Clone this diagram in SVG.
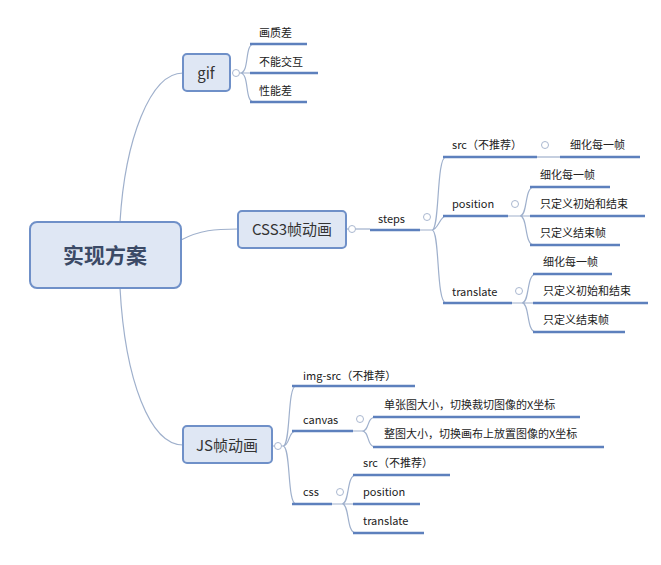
<svg xmlns="http://www.w3.org/2000/svg" width="661" height="565" viewBox="0 0 661 565">
<style>
.t{font-family:"Noto Sans CJK SC","Noto Sans",sans-serif;font-size:11px;fill:#222}
.ul{stroke:#5d80bd;stroke-width:2.5;fill:none}
.c{stroke:#9fb0cc;stroke-width:1.2;fill:none}
.box{fill:#dfe7f4;stroke:#6f90c8;stroke-width:2}
.bt{font-family:"Noto Sans CJK SC","Noto Sans",sans-serif;font-size:15px;fill:#333;text-anchor:middle}
.ci{fill:#fff;stroke:#aab8d0;stroke-width:1}
</style>
<rect width="661" height="565" fill="#fff"/>
<g id="connectors">
<path class="c" d="M120 222 C125 140 150 73 183 73"/>
<path class="c" d="M181 240 C200 230 215 229 238 229"/>
<path class="c" d="M120 288 C125 380 150 445 183 445"/>
<path class="c" d="M240 73 C250 73 244 44 254 44 M240 73 H250 M240 73 C250 73 244 102 254 102"/>
<path class="c" d="M346 229 H370"/>
<path class="c" d="M420 230 H432 C440 230 436 157 446 157 M432 230 C440 230 436 303 446 303 M432 230 C438 230 440 216 446 216"/>
<path class="c" d="M537 157 H560"/>
<path class="c" d="M508 216 H520 C528 216 524 187 534 187 M520 216 H530 M520 216 C528 216 524 245 534 245"/>
<path class="c" d="M512 303 H522 C530 303 526 274 536 274 M522 303 H533 M522 303 C530 303 526 332 536 332"/>
<path class="c" d="M272 446 H283 C291 446 287 386 296 386 M283 446 C290 446 288 431 296 431 M283 446 C291 446 287 504 296 504"/>
<path class="c" d="M353 431 H362 C370 431 366 417 376 417 M362 431 C370 431 366 447 376 447"/>
<path class="c" d="M332 504 H342 C350 504 346 475 356 475 M342 504 H353 M342 504 C350 504 346 533 356 533"/>
</g>
<g id="root"><rect class="box" x="30" y="222" width="151" height="66" rx="7" stroke-width="4"/><text x="105" y="263" class="bt" style="font-size:21px;font-weight:bold;fill:#3b4a66">实现方案</text></g>
<g id="gif"><rect class="box" x="183" y="54" width="47" height="37" rx="4"/><text x="206" y="79" class="bt">gif</text><circle class="ci" cx="236" cy="73" r="3.5"/></g>
<g id="gif-kids">
<text class="t" x="259" y="37">画质差</text><path class="ul" d="M250 44 H307"/>
<text class="t" x="259" y="66">不能交互</text><path class="ul" d="M250 73 H318"/>
<text class="t" x="259" y="95">性能差</text><path class="ul" d="M250 102 H307"/>
</g>
<g id="css3"><rect class="box" x="238" y="211" width="108" height="37" rx="4"/><text x="292" y="235" class="bt">CSS3帧动画</text><circle class="ci" cx="352" cy="229" r="3.5"/></g>
<g id="steps"><text class="t" x="378" y="223">steps</text><path class="ul" d="M370 230 H420"/><circle class="ci" cx="427" cy="217" r="3.5"/></g>
<g id="steps-kids">
<text class="t" x="452" y="149">src（不推荐）</text><path class="ul" d="M443 157 H537"/><circle class="ci" cx="545" cy="145" r="3.5"/>
<text class="t" x="570" y="149">细化每一帧</text><path class="ul" d="M560 157 H640"/>
<text class="t" x="452" y="208">position</text><path class="ul" d="M443 216 H508"/><circle class="ci" cx="515" cy="204" r="3.5"/>
<text class="t" x="540" y="179">细化每一帧</text><path class="ul" d="M530 187 H610"/>
<text class="t" x="540" y="208">只定义初始和结束</text><path class="ul" d="M530 216 H645"/>
<text class="t" x="540" y="237">只定义结束帧</text><path class="ul" d="M530 245 H620"/>
<text class="t" x="452" y="296">translate</text><path class="ul" d="M443 303 H512"/><circle class="ci" cx="519" cy="291" r="3.5"/>
<text class="t" x="543" y="266">细化每一帧</text><path class="ul" d="M533 274 H612"/>
<text class="t" x="543" y="295">只定义初始和结束</text><path class="ul" d="M533 303 H648"/>
<text class="t" x="543" y="324">只定义结束帧</text><path class="ul" d="M533 332 H625"/>
</g>
<g id="js"><rect class="box" x="183" y="426" width="89" height="37" rx="4"/><text x="227" y="451" class="bt">JS帧动画</text><circle class="ci" cx="278" cy="446" r="3.5"/></g>
<g id="js-kids">
<text class="t" x="303" y="380">img-src（不推荐）</text><path class="ul" d="M292 386 H415"/>
<text class="t" x="303" y="424">canvas</text><path class="ul" d="M292 431 H353"/><circle class="ci" cx="360" cy="419" r="3.5"/>
<text class="t" x="384" y="409">单张图大小，切换裁切图像的X坐标</text><path class="ul" d="M373 417 H580"/>
<text class="t" x="384" y="438">整图大小，切换画布上放置图像的X坐标</text><path class="ul" d="M373 447 H604"/>
<text class="t" x="303" y="496">css</text><path class="ul" d="M292 504 H332"/><circle class="ci" cx="340" cy="492" r="3.5"/>
<text class="t" x="363" y="467">src（不推荐）</text><path class="ul" d="M353 475 H450"/>
<text class="t" x="363" y="496">position</text><path class="ul" d="M353 504 H420"/>
<text class="t" x="363" y="525">translate</text><path class="ul" d="M353 533 H424"/>
</g>
</svg>
